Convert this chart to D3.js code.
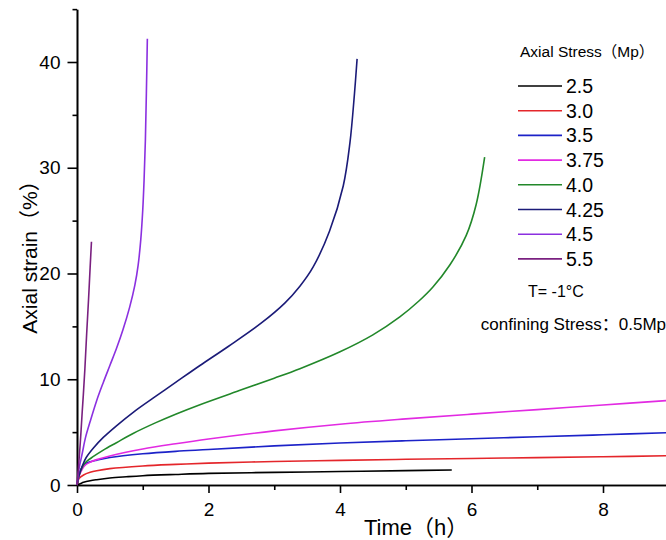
<!DOCTYPE html>
<html>
<head>
<meta charset="utf-8">
<script src="https://cdn.jsdelivr.net/npm/d3@7"></script>
<style>
html, body { margin: 0; padding: 0; background: #fff; }
svg { display: block; }
text { font-family: "Liberation Sans", Arial, "Noto Sans CJK SC", sans-serif; fill: #000; }
</style>
</head>
<body>
<svg id="chart" width="666" height="540"></svg>
<script>
// ---- Data (time in h, axial strain in %) ----
const stressLabels = ["2.5", "3.0", "3.5", "3.75", "4.0", "4.25", "4.5", "5.5"];
const seriesColors = ["#000000", "#e4262b", "#1c22c8", "#e22ae2", "#22882a", "#1b1b78", "#8b30e0", "#7a2080"];

const t25 = [0, 0.05, 0.1, 0.2, 0.3, 0.5, 0.75, 1, 1.5, 2, 3, 4, 5, 5.7];
const s25 = [0, 0.12, 0.25, 0.4, 0.5, 0.66, 0.78, 0.88, 1.0, 1.1, 1.19, 1.27, 1.36, 1.42];

const t30 = [0, 0.03, 0.1, 0.2, 0.3, 0.5, 1, 1.5, 2, 3, 4, 5, 6, 7, 8, 9];
const s30 = [0, 0.6, 0.95, 1.2, 1.35, 1.55, 1.8, 1.95, 2.07, 2.22, 2.33, 2.43, 2.51, 2.59, 2.67, 2.77];

const t35 = [0, 0.03, 0.08, 0.12, 0.2, 0.3, 0.5, 1, 1.5, 2, 3, 4, 5, 6, 7, 8, 9];
const s35 = [0, 1.0, 1.7, 2.0, 2.2, 2.35, 2.6, 2.95, 3.18, 3.35, 3.7, 3.97, 4.18, 4.37, 4.56, 4.75, 4.95];

const t375 = [0, 0.03, 0.08, 0.12, 0.2, 0.3, 0.5, 1, 1.5, 2, 3, 4, 5, 6, 7, 8, 9];
const s375 = [0, 0.8, 1.5, 1.85, 2.15, 2.4, 2.75, 3.4, 3.9, 4.35, 5.12, 5.75, 6.25, 6.7, 7.13, 7.56, 8.0];

const t40 = [0, 0.03, 0.08, 0.14, 0.25, 0.4, 0.6, 0.86, 1.2, 1.5, 1.87, 2.5, 3, 3.39, 4, 4.5, 4.91, 5.2, 5.41, 5.67, 5.92, 6.07, 6.2];
const s40 = [0, 0.9, 1.7, 2.2, 2.7, 3.3, 4.0, 4.9, 5.9, 6.7, 7.6, 9.0, 10.1, 11.0, 12.6, 14.2, 15.9, 17.4, 18.7, 20.8, 23.6, 26.5, 31.0];

const t425 = [0, 0.03, 0.08, 0.14, 0.25, 0.4, 0.6, 0.86, 1.2, 1.5, 1.87, 2.3, 2.8, 3.16, 3.39, 3.59, 3.84, 4.05, 4.15, 4.22, 4.26];
const s425 = [0, 0.9, 1.8, 2.6, 3.5, 4.5, 5.6, 6.9, 8.4, 9.7, 11.3, 13.1, 15.3, 17.2, 18.8, 20.6, 24.0, 28.3, 32.3, 37.0, 40.3];

const t45 = [0, 0.03, 0.08, 0.13, 0.2, 0.3, 0.4, 0.5, 0.6, 0.7, 0.8, 0.88, 0.93, 0.97, 1.0, 1.02, 1.04, 1.055, 1.07];
const s45 = [0, 1.5, 3, 4.5, 6, 8, 9.7, 11.3, 12.9, 14.7, 16.8, 18.9, 20.8, 23.2, 26.0, 28.8, 32.6, 37.0, 42.2];

const t55 = [0, 0.02, 0.05, 0.08, 0.096, 0.12, 0.147, 0.175, 0.2, 0.22];
const s55 = [0, 1.5, 4, 7, 8.5, 11, 14.3, 17.5, 20.6, 23.0];

const xMajorTicks = [0, 2, 4, 6, 8];
const xMinorTicks = [1, 3, 5, 7, 9];
const yMajorTicks = [0, 10, 20, 30, 40];
const yMinorTicks = [5, 15, 25, 35, 45];

const xTitle = "Time（h）";
const yTitle = "Axial strain（%）";
const legendTitle = "Axial Stress（Mp）";
const noteTemp = "T= -1°C";
const noteConf = "confining Stress：0.5Mp";

// ---- Build series ----
const timeArrays = [t25, t30, t35, t375, t40, t425, t45, t55];
const strainArrays = [s25, s30, s35, s375, s40, s425, s45, s55];
const series = stressLabels.map((lab, i) => ({
  label: lab,
  color: seriesColors[i],
  points: timeArrays[i].map((t, j) => ({ t: t, s: strainArrays[i][j] }))
}));

// ---- Layout ----
const svg = d3.select("#chart");
const x0 = 77, y0 = 485;
const x = d3.scaleLinear().domain([0, 9.2]).range([x0, x0 + 9.2 * 65.75]);
const y = d3.scaleLinear().domain([0, 45]).range([y0, y0 - 45 * 10.575]);

// Axes
const xAxis = svg.append("g").attr("transform", `translate(0,${y0})`)
  .call(d3.axisBottom(x).tickValues(xMajorTicks).tickSize(8).tickSizeOuter(0).tickPadding(6).tickFormat(d3.format("d")));
const xMinor = svg.append("g").attr("transform", `translate(0,${y0})`)
  .call(d3.axisBottom(x).tickValues(xMinorTicks).tickSize(5).tickSizeOuter(0).tickFormat(""));
const yAxis = svg.append("g").attr("transform", `translate(${x0},0)`)
  .call(d3.axisLeft(y).tickValues(yMajorTicks).tickSize(9.5).tickSizeOuter(0).tickPadding(6).tickFormat(d3.format("d")));
const yMinor = svg.append("g").attr("transform", `translate(${x0},0)`)
  .call(d3.axisLeft(y).tickValues(yMinorTicks).tickSize(4.5).tickSizeOuter(0).tickFormat(""));

[xAxis, xMinor, yAxis, yMinor].forEach(g => {
  g.select(".domain").attr("stroke", "#000").attr("stroke-width", 1.6);
  g.selectAll(".tick line").attr("stroke", "#000").attr("stroke-width", 1.6);
  g.selectAll(".tick text").style("font-size", "19px").attr("fill", "#000");
});
xAxis.selectAll(".tick text").attr("dy", "0.9em");
yAxis.selectAll(".tick text").attr("dx", "-1px");

// Lines
const line = d3.line().x(d => x(d.t)).y(d => y(d.s)).curve(d3.curveCatmullRom.alpha(0.5));
svg.append("g").selectAll("path").data(series).join("path")
  .attr("d", d => line(d.points))
  .attr("fill", "none")
  .attr("stroke", d => d.color)
  .attr("stroke-width", 1.6);

// Axis titles
svg.append("text").attr("x", 364).attr("y", 535)
  .style("font-size", "22px").text(xTitle);
svg.append("text").attr("transform", "translate(37,252) rotate(-90)")
  .attr("text-anchor", "middle").style("font-size", "21px").text(yTitle);

// Legend
const lg = svg.append("g");
lg.append("text").attr("x", 520).attr("y", 57).style("font-size", "15.5px").text(legendTitle);
const entries = lg.selectAll("g.entry").data(series).join("g").attr("class", "entry")
  .attr("transform", (d, i) => `translate(0,${86 + i * 24.7})`);
entries.append("line").attr("x1", 518).attr("x2", 562).attr("y1", 0).attr("y2", 0)
  .attr("stroke", d => d.color).attr("stroke-width", 1.6);
entries.append("text").attr("x", 566).attr("y", 7).style("font-size", "19.5px").text(d => d.label);

lg.append("text").attr("x", 528).attr("y", 297).style("font-size", "16px").text(noteTemp);
lg.append("text").attr("x", 666).attr("y", 330).attr("text-anchor", "end").style("font-size", "17px").text(noteConf);
</script>
</body>
</html>
